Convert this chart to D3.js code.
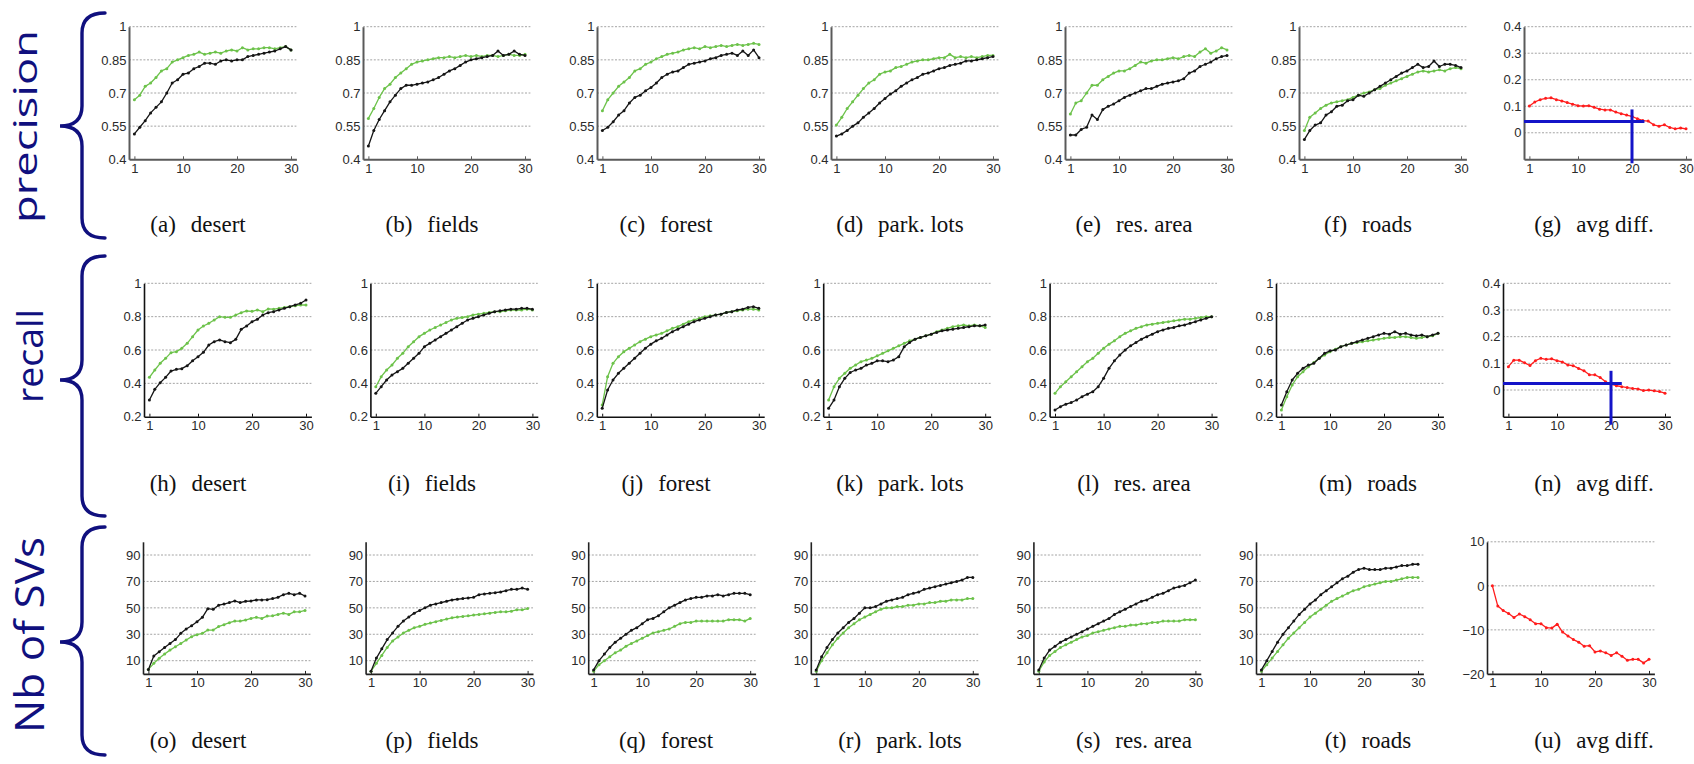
<!DOCTYPE html>
<html>
<head>
<meta charset="utf-8">
<script src="https://cdn.jsdelivr.net/npm/d3@7"></script>
<style>
  html, body { margin: 0; padding: 0; background: #fff; }
  svg { display: block; }
</style>
</head>
<body>
<svg id="fig" width="1694" height="764"></svg>
<script>
// ---- data ----------------------------------------------------------------
const iterations = d3.range(1, 31);
const categories = ["desert", "fields", "forest", "park. lots", "res. area", "roads"];
const diffCaption = "avg diff.";
const rowTitles = ["precision", "recall", "Nb of SVs"];
const panelLetters = [
  ["a", "b", "c", "d", "e", "f", "g"],
  ["h", "i", "j", "k", "l", "m", "n"],
  ["o", "p", "q", "r", "s", "t", "u"]
];
const xTicks = [1, 10, 20, 30];

const precisionTicks = [0.4, 0.55, 0.7, 0.85, 1];
const recallTicks = [0.2, 0.4, 0.6, 0.8, 1];
const svTicks = [10, 30, 50, 70, 90];
const diffRateTicks = [0, 0.1, 0.2, 0.3, 0.4];
const diffSvTicks = [-20, -10, 0, 10];

const precisionGreen = [
  [0.67,0.69,0.73,0.745,0.77,0.80,0.81,0.84,0.85,0.86,0.87,0.875,0.885,0.875,0.88,0.885,0.88,0.89,0.895,0.89,0.905,0.895,0.90,0.90,0.905,0.905,0.90,0.905,0.91,0.895],
  [0.585,0.63,0.68,0.72,0.74,0.77,0.79,0.81,0.83,0.84,0.845,0.85,0.855,0.86,0.86,0.865,0.86,0.865,0.87,0.865,0.87,0.865,0.87,0.87,0.865,0.87,0.875,0.87,0.87,0.875],
  [0.62,0.67,0.70,0.73,0.75,0.77,0.80,0.81,0.83,0.84,0.855,0.865,0.875,0.88,0.885,0.895,0.90,0.905,0.90,0.91,0.905,0.91,0.915,0.91,0.915,0.92,0.915,0.92,0.925,0.92],
  [0.555,0.59,0.63,0.66,0.69,0.72,0.745,0.76,0.785,0.795,0.80,0.815,0.82,0.83,0.84,0.845,0.85,0.85,0.855,0.86,0.86,0.875,0.86,0.865,0.86,0.865,0.86,0.865,0.87,0.87],
  [0.605,0.655,0.665,0.70,0.735,0.735,0.76,0.775,0.79,0.80,0.80,0.81,0.825,0.84,0.835,0.845,0.85,0.85,0.855,0.86,0.855,0.865,0.87,0.865,0.885,0.90,0.88,0.89,0.905,0.895],
  [0.53,0.59,0.61,0.63,0.645,0.655,0.66,0.665,0.67,0.68,0.69,0.70,0.705,0.715,0.72,0.735,0.745,0.755,0.765,0.775,0.785,0.795,0.80,0.795,0.80,0.805,0.80,0.81,0.815,0.81]
];
const precisionBlack = [
  [0.515,0.545,0.575,0.61,0.635,0.66,0.70,0.745,0.76,0.785,0.79,0.81,0.82,0.835,0.835,0.83,0.845,0.85,0.845,0.85,0.85,0.865,0.87,0.875,0.88,0.885,0.89,0.90,0.91,0.895],
  [0.46,0.53,0.58,0.62,0.66,0.69,0.72,0.735,0.735,0.74,0.745,0.75,0.76,0.77,0.785,0.80,0.81,0.825,0.84,0.85,0.855,0.86,0.865,0.87,0.89,0.87,0.875,0.89,0.875,0.87],
  [0.53,0.545,0.57,0.60,0.62,0.655,0.68,0.69,0.71,0.725,0.745,0.77,0.785,0.795,0.80,0.815,0.83,0.835,0.84,0.845,0.855,0.86,0.87,0.875,0.88,0.87,0.89,0.87,0.895,0.86],
  [0.505,0.515,0.53,0.55,0.565,0.59,0.61,0.63,0.655,0.675,0.695,0.71,0.73,0.745,0.76,0.77,0.785,0.79,0.80,0.81,0.815,0.825,0.83,0.835,0.845,0.845,0.85,0.855,0.86,0.865],
  [0.51,0.51,0.535,0.545,0.60,0.58,0.625,0.64,0.65,0.665,0.68,0.69,0.70,0.71,0.72,0.72,0.73,0.74,0.745,0.75,0.755,0.765,0.79,0.80,0.82,0.83,0.84,0.855,0.865,0.87],
  [0.49,0.53,0.555,0.565,0.60,0.615,0.64,0.645,0.665,0.67,0.69,0.685,0.70,0.715,0.73,0.745,0.76,0.775,0.79,0.80,0.815,0.83,0.815,0.82,0.845,0.82,0.83,0.83,0.825,0.815]
];
const precisionDiff = [0.101,0.116,0.125,0.13,0.132,0.125,0.12,0.114,0.108,0.102,0.101,0.102,0.096,0.089,0.086,0.086,0.078,0.072,0.067,0.062,0.053,0.046,0.044,0.03,0.025,0.03,0.02,0.015,0.018,0.015];

const recallGreen = [
  [0.436,0.48,0.52,0.55,0.584,0.59,0.61,0.64,0.68,0.72,0.744,0.76,0.78,0.80,0.796,0.796,0.81,0.824,0.834,0.832,0.84,0.83,0.846,0.845,0.85,0.855,0.86,0.865,0.87,0.87],
  [0.38,0.44,0.48,0.51,0.55,0.58,0.62,0.65,0.68,0.70,0.72,0.735,0.75,0.765,0.78,0.79,0.795,0.80,0.81,0.815,0.82,0.825,0.83,0.83,0.835,0.84,0.84,0.84,0.845,0.84],
  [0.27,0.44,0.52,0.56,0.59,0.61,0.63,0.65,0.665,0.68,0.69,0.70,0.715,0.73,0.74,0.755,0.77,0.78,0.79,0.80,0.805,0.81,0.815,0.825,0.83,0.835,0.84,0.845,0.845,0.84],
  [0.30,0.38,0.43,0.46,0.49,0.51,0.53,0.54,0.55,0.565,0.58,0.595,0.61,0.625,0.64,0.655,0.665,0.675,0.685,0.695,0.71,0.72,0.73,0.74,0.745,0.75,0.745,0.75,0.745,0.735],
  [0.34,0.38,0.41,0.44,0.47,0.50,0.53,0.55,0.58,0.61,0.635,0.655,0.68,0.70,0.715,0.73,0.74,0.75,0.755,0.76,0.765,0.77,0.775,0.78,0.785,0.785,0.79,0.795,0.80,0.80],
  [0.24,0.32,0.39,0.44,0.47,0.50,0.525,0.55,0.57,0.59,0.605,0.62,0.63,0.64,0.645,0.65,0.655,0.66,0.665,0.67,0.675,0.675,0.68,0.68,0.675,0.67,0.675,0.68,0.685,0.70]
];
const recallBlack = [
  [0.30,0.364,0.404,0.436,0.474,0.484,0.488,0.506,0.536,0.56,0.586,0.63,0.65,0.66,0.65,0.644,0.664,0.724,0.744,0.77,0.784,0.81,0.824,0.83,0.84,0.85,0.86,0.87,0.88,0.90],
  [0.34,0.38,0.42,0.45,0.47,0.49,0.52,0.55,0.58,0.62,0.64,0.66,0.68,0.70,0.72,0.74,0.76,0.78,0.79,0.80,0.81,0.82,0.83,0.835,0.84,0.845,0.845,0.85,0.85,0.845],
  [0.25,0.36,0.42,0.46,0.49,0.52,0.55,0.58,0.61,0.635,0.655,0.67,0.69,0.71,0.725,0.74,0.755,0.77,0.78,0.79,0.80,0.81,0.815,0.825,0.83,0.84,0.845,0.855,0.86,0.85],
  [0.25,0.30,0.38,0.43,0.465,0.48,0.49,0.51,0.52,0.535,0.535,0.53,0.54,0.56,0.62,0.645,0.665,0.675,0.685,0.695,0.705,0.715,0.72,0.725,0.73,0.735,0.74,0.745,0.745,0.75],
  [0.24,0.26,0.275,0.285,0.30,0.32,0.335,0.35,0.38,0.43,0.49,0.535,0.57,0.60,0.625,0.645,0.665,0.68,0.695,0.71,0.72,0.73,0.735,0.745,0.75,0.76,0.77,0.78,0.79,0.80],
  [0.27,0.35,0.42,0.46,0.49,0.51,0.52,0.55,0.58,0.595,0.60,0.62,0.63,0.64,0.65,0.66,0.67,0.68,0.69,0.70,0.695,0.71,0.695,0.70,0.69,0.685,0.69,0.68,0.69,0.70]
];
const recallDiff = [0.0875,0.112,0.112,0.102,0.092,0.11,0.119,0.115,0.117,0.11,0.105,0.094,0.091,0.081,0.072,0.057,0.057,0.047,0.031,0.022,0.016,0.0125,0.009,0.006,0.004,-0.002,0.0,-0.003,-0.006,-0.012];

const svGreen = [
  [3.4,8,11.8,15,18,20.6,23,25.7,28.2,29.7,30.7,33.2,33.2,35.8,37.3,38.8,40,40,40.8,42,42.8,42,43.8,44,45,46,45,47,47,48],
  [2,8,14,20,25,28,31,33,35,36,37.5,38.5,39.5,40.5,41.5,42.5,43,43.5,44,44.5,45,45.5,46,46.5,47,47,47.5,48.5,48.5,49.5],
  [2,7,10,13,16,18,21,23,25,27,29,31,32,33,34,36,38,39,39,40,40,40,40,40,40,41,41,41,40,42],
  [2,10,16,22,27,31,35,38,41,43,45,47,49,50,50,51,51,52,52,53,53,54,54,55,55,56,56,56,57,57],
  [2,9,14,17,20,22,24,26,28,29,31,32,33,34,35,36,36,37,37,38,38,39,39,40,40,40,40,41,41,41],
  [2,7,12,17,22,27,31,35,39,43,46,49,52,55,57,59,61,63,64,66,67,68,69,70,70,71,72,73,73,73]
];
const svBlack = [
  [3.4,13.5,16.8,20,23,26,30.7,34,36.5,39.5,42.8,49.4,48.9,52,52.9,54,55.2,54,55,55.2,56,56,56.2,57,58,60,61,60,61,59],
  [2,12,19,26,31,36,40,43,46,48,50,52,53,54,55,56,56.5,57,57.5,58,60,60.5,61,61.5,62,63,64,64,65,64],
  [3,10,15,20,24,27,30,33,35,38,41,42,44,47,50,52,54,56,57,58,58,59,59,60,59,60,61,61,61,60],
  [3,13,20,26,31,35,39,42,46,50,50,51,53,55,56,57,58,60,61,62,64,65,66,67,68,69,70,71,73,73],
  [3,12,18,21,24,26,28,30,32,34,36,38,40,42,45,47,49,51,53,55,56,58,60,61,63,65,66,67,69,71],
  [3,10,17,24,30,35,40,45,49,53,56,60,63,66,69,72,74,77,79,80,79,79,79,80,80,81,82,82,83,83]
];
const svDiff = [0,-4.6,-5.6,-6.3,-7.2,-6.4,-7,-7.7,-8.6,-8.6,-9.5,-9.6,-8.7,-10.5,-11.4,-12.2,-12.8,-13.7,-13.6,-15,-14.8,-15.2,-15.8,-15.2,-16,-16.9,-16.7,-16.7,-17.5,-16.7];

// crosshair marks on the difference plots (data units)
const precisionMark = { level: 0.043, levelEnd: 22.3, at: 20, from: 0.088, to: -0.115 };
const recallMark = { level: 0.024, levelEnd: 22, at: 20, from: 0.072, to: -0.13 };

// ---- styling ---------------------------------------------------------------
const GREEN = "#6cc24a", BLACK = "#151515", RED = "#ff1c1c", BLUE = "#1414c8", NAVY = "#10107e";
const UNIT = 5.4;               // px per iteration
const X_DOMAIN = [0, 31];

const rows = [
  { top: 26.7, bottom: 159.3, x0: 129, pitch: 234, diffX: 1524, capY: 232, domain: [0.4, 1], ticks: precisionTicks,
    green: precisionGreen, black: precisionBlack, diff: precisionDiff, diffDomain: [-0.1, 0.4], diffTicks: diffRateTicks,
    mark: precisionMark, axisColor: "#5a5a5a", axisWidth: 2 },
  { top: 283.3, bottom: 416.7, x0: 144, pitch: 226.4, diffX: 1503, capY: 491, domain: [0.2, 1], ticks: recallTicks,
    green: recallGreen, black: recallBlack, diff: recallDiff, diffDomain: [-0.1, 0.4], diffTicks: diffRateTicks,
    mark: recallMark, axisColor: "#111", axisWidth: 1.6 },
  { top: 541.8, bottom: 673.9, x0: 143, pitch: 222.6, diffX: 1487, capY: 748, domain: [0, 100], ticks: svTicks,
    green: svGreen, black: svBlack, diff: svDiff, diffDomain: [-20, 10], diffTicks: diffSvTicks,
    mark: null, axisColor: "#222", axisWidth: 1.6 }
];
const CAP_PITCH = 234;
const CAP_X0 = 198, DIFF_CAP_X = 1594;

const svg = d3.select("#fig");
const fmt = v => String(v).replace("-", "\u2212");

function drawPanel(xLeft, row, domain, ticks, seriesList, mark) {
  const x = d3.scaleLinear().domain(X_DOMAIN).range([xLeft, xLeft + UNIT * (X_DOMAIN[1] - X_DOMAIN[0])]);
  const y = d3.scaleLinear().domain(domain).range([row.bottom, row.top]);
  const g = svg.append("g");

  // dotted grid
  g.selectAll("line.grid").data(ticks.filter(t => t !== domain[0])).join("line")
    .attr("x1", x(X_DOMAIN[0])).attr("x2", x(X_DOMAIN[1]))
    .attr("y1", d => y(d)).attr("y2", d => y(d))
    .attr("stroke", "#9a9a9a").attr("stroke-width", 0.9).attr("stroke-dasharray", "2,1.6");

  // axes
  const yAxis = g.append("g").attr("transform", `translate(${x(0)},0)`)
    .call(d3.axisLeft(y).tickValues(ticks).tickSize(0).tickPadding(2.5).tickFormat(fmt));
  const xAxis = g.append("g").attr("transform", `translate(0,${y(domain[0])})`)
    .call(d3.axisBottom(x).tickValues(xTicks).tickSizeInner(-3).tickSizeOuter(0).tickPadding(4).tickFormat(fmt));
  [yAxis, xAxis].forEach(a => {
    a.select(".domain").attr("stroke", row.axisColor).attr("stroke-width", row.axisWidth);
    a.selectAll(".tick line").attr("stroke", row.axisColor).attr("stroke-width", 1);
    a.selectAll("text").attr("fill", "#2a2a2a")
      .style("font-family", "'Liberation Sans', Arial, sans-serif").style("font-size", "13px");
  });

  // series
  const line = d3.line().x((d, i) => x(iterations[i])).y(d => y(d));
  seriesList.forEach(s => {
    g.append("path").datum(s.values).attr("d", line)
      .attr("fill", "none").attr("stroke", s.color).attr("stroke-width", 1.3).attr("stroke-linejoin", "round");
    g.selectAll(null).data(s.values).join("circle")
      .attr("cx", (d, i) => x(iterations[i])).attr("cy", d => y(d)).attr("r", 1.5).attr("fill", s.color);
  });

  if (mark) {
    g.append("line").attr("x1", x(0)).attr("x2", x(mark.levelEnd))
      .attr("y1", y(mark.level)).attr("y2", y(mark.level))
      .attr("stroke", BLUE).attr("stroke-width", 3);
    g.append("line").attr("x1", x(mark.at)).attr("x2", x(mark.at))
      .attr("y1", y(mark.from)).attr("y2", y(mark.to))
      .attr("stroke", BLUE).attr("stroke-width", 3);
  }
}

function caption(cx, cy, letter, name) {
  const t = svg.append("text").attr("x", cx).attr("y", cy).attr("text-anchor", "middle")
    .style("font-family", "'Liberation Serif', 'Times New Roman', serif").style("font-size", "23px").attr("fill", "#111");
  t.append("tspan").text(`(${letter})`);
  t.append("tspan").attr("dx", 15).text(name);
}

rows.forEach((row, r) => {
  categories.forEach((cat, c) => {
    drawPanel(row.x0 + row.pitch * c, row, row.domain, row.ticks, [
      { values: row.green[c], color: GREEN },
      { values: row.black[c], color: BLACK }
    ], null);
    caption(CAP_X0 + CAP_PITCH * c, row.capY, panelLetters[r][c], cat);
  });
  drawPanel(row.diffX, row, row.diffDomain, row.diffTicks, [{ values: row.diff, color: RED }], row.mark);
  caption(DIFF_CAP_X, row.capY, panelLetters[r][6], diffCaption);
});

// ---- row titles with braces --------------------------------------------------
const titles = [
  { text: rowTitles[0], cy: 126.5, base: 37, size: 33, len: 193, top: 13, tip: 126, end: 238 },
  { text: rowTitles[1], cy: 356, base: 43, size: 37, len: 94, top: 256, tip: 380, end: 516 },
  { text: rowTitles[2], cy: 635, base: 43.5, size: 40, len: 196, top: 527, tip: 642, end: 755 }
];
const SPINE = 82, TIP_X = 60, END_X = 105, R = 20;
titles.forEach(t => {
  svg.append("text")
    .attr("transform", `translate(${t.base},${t.cy}) rotate(-90)`)
    .attr("text-anchor", "middle")
    .attr("textLength", t.len).attr("lengthAdjust", "spacingAndGlyphs")
    .style("font-family", "'Open Sans', 'Noto Sans', sans-serif").style("font-size", t.size + "px")
    .attr("fill", NAVY).text(t.text);
  const p = d3.path();
  p.moveTo(END_X, t.top);
  p.quadraticCurveTo(SPINE, t.top, SPINE, t.top + R);
  p.lineTo(SPINE, t.tip - R);
  p.quadraticCurveTo(SPINE, t.tip, TIP_X, t.tip);
  p.quadraticCurveTo(SPINE, t.tip, SPINE, t.tip + R);
  p.lineTo(SPINE, t.end - R);
  p.quadraticCurveTo(SPINE, t.end, END_X, t.end);
  svg.append("path").attr("d", p.toString()).attr("fill", "none")
    .attr("stroke", NAVY).attr("stroke-width", 3.4).attr("stroke-linecap", "round");
});
</script>
</body>
</html>
